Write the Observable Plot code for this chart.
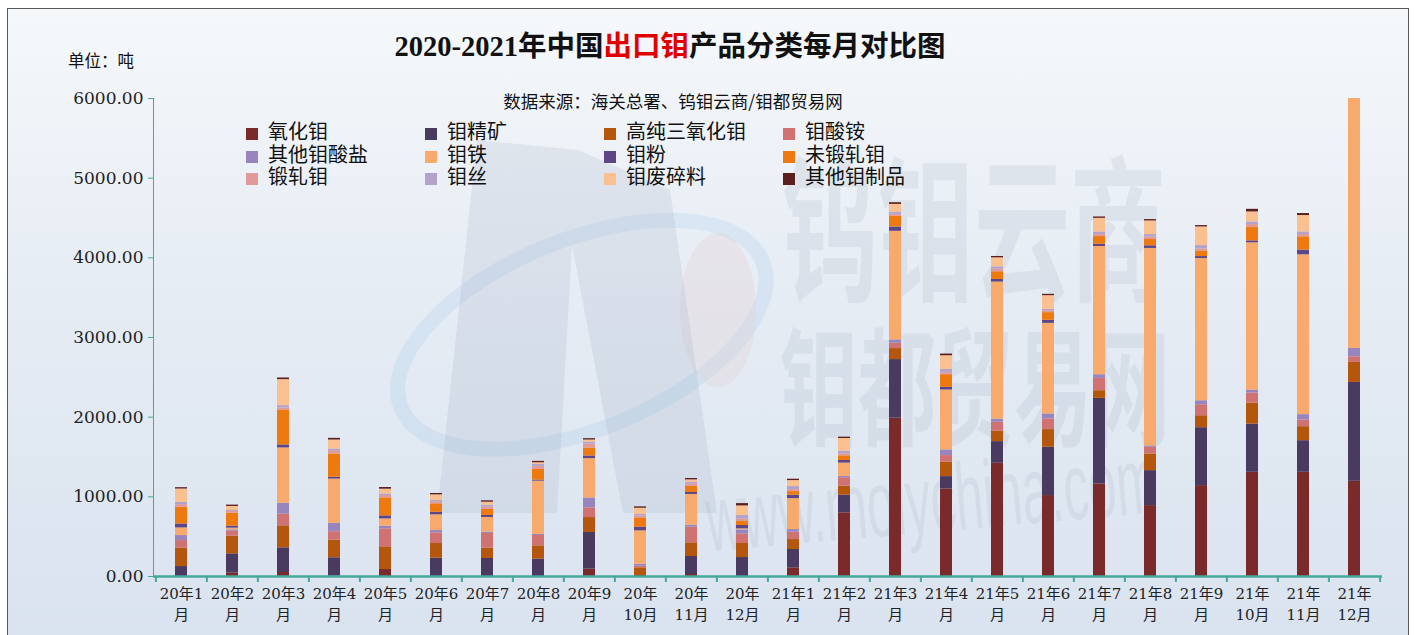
<!DOCTYPE html>
<html>
<head>
<meta charset="utf-8">
<script src="https://cdn.jsdelivr.net/npm/d3@7"></script>
<script src="https://cdn.jsdelivr.net/npm/@observablehq/plot@0.6"></script>
<style>
  html, body { margin: 0; padding: 0; background: #fff; }
  #wrap { position: relative; width: 1416px; height: 635px; overflow: hidden; }
  #frame { position: absolute; left: 7px; top: 8px; width: 1400px; height: 640px;
           border: 1px solid #5a5a5a; background: linear-gradient(to bottom, #f5f8fb 0%, #e6ecf4 45%, #d9e3ef 100%); }
  #logo { position: absolute; left: 0; top: 0; }
  .wm { position: absolute; color: rgba(150,162,182,0.16); font-family: "Noto Sans CJK SC", sans-serif; font-weight: 700; white-space: nowrap; transform-origin: 0 0; }
  #chart { position: absolute; left: 0; top: 0; }
  .t { position: absolute; white-space: nowrap; color: #111; }
  #title { left: 0; width: 1340px; top: 23px; text-align: center; font-family: "Liberation Serif", "Noto Sans CJK SC", serif; font-size: 28.5px; font-weight: 700; }
  #title .red { color: #e00000; }
  #unit { left: 68px; top: 48px; font-family: "Noto Sans CJK SC", sans-serif; font-size: 16.5px; }
  #src { left: 0; width: 1346px; top: 88px; text-align: center; font-family: "Noto Sans CJK SC", sans-serif; font-size: 17.5px; }
  .lg { position: absolute; font-family: "Noto Sans CJK SC", sans-serif; font-size: 20px; color: #111; white-space: nowrap; line-height: 22px; }
  .lg span.sw { display: inline-block; width: 12px; height: 12px; margin-right: 10px; vertical-align: -1px; }
</style>
</head>
<body>
<div id="wrap">
  <div id="frame"></div>
  <svg id="logo" width="1416" height="635">
    <g transform="rotate(-22 580 330)">
      <ellipse cx="580" cy="335" rx="195" ry="95" fill="none" stroke="rgba(150,195,235,0.2)" stroke-width="15"/>
    </g>
    <ellipse cx="718" cy="310" rx="38" ry="77" fill="rgba(228,205,205,0.28)"/>
    <polygon points="437,513 477,140 578,150 670,190 717,513 623,513 572,245 557,513" fill="rgba(150,162,182,0.17)"/>
  </svg>
  <div class="wm" style="left:782px; top:142px; font-size:98px; line-height:1; transform: scale(0.98,1.6);">钨钼云商</div>
  <div class="wm" style="left:780px; top:316px; font-size:78px; line-height:1; transform: scale(1.0,1.65);">钼都贸易网</div>
  <div class="wm" style="left:702px; top:472px; font-size:50px; line-height:1; font-family:'Liberation Sans',sans-serif; font-weight:400; transform: rotate(-5deg) scale(1.0,1.9);">www.molychina.com</div>
  <div id="chart"></div>
  <div class="t" id="title">2020-2021年中国<span class="red">出口钼</span>产品分类每月对比图</div>
  <div class="t" id="unit">单位：吨</div>
  <div class="t" id="src">数据来源：海关总署、钨钼云商/钼都贸易网</div>
  <div id="legend"></div>
</div>
<script>
// ---- data ----
const months = ["20年1月","20年2月","20年3月","20年4月","20年5月","20年6月","20年7月","20年8月","20年9月","20年10月","20年11月","20年12月",
                "21年1月","21年2月","21年3月","21年4月","21年5月","21年6月","21年7月","21年8月","21年9月","21年10月","21年11月","21年12月"];
const seriesNames = ["氧化钼","钼精矿","高纯三氧化钼","钼酸铵","其他钼酸盐","钼铁","钼粉","未锻轧钼","锻轧钼","钼丝","钼废碎料","其他钼制品"];
const seriesColors = ["#7a2a2b","#4b3a60","#b5560d","#d07272","#9985bd","#f7aa6b","#5d4586","#ee790e","#e19a9a","#b3a3cb","#fac08f","#5c1f20"];
const yTicks = [0,1000,2000,3000,4000,5000,6000];

const moOxide      = [0,46,50,5,88,0,0,0,92,13,25,0, 109,799,1987,1099,1421,1016,1162,890,1141,1308,1308,1195];
const moConcentrate= [125,238,310,230,0,230,226,218,460,0,226,238, 230,222,736,155,272,606,1074,439,727,606,397,1241];
const hpTrioxide   = [230,222,276,222,276,184,130,167,188,96,172,176, 125,113,138,180,130,222,96,209,150,263,176,251];
const ammMolybdate = [96,63,146,105,234,134,184,130,121,21,197,121, 92,105,67,84,113,134,155,84,138,125,84,71];
const otherMolyb   = [63,17,138,105,33,29,17,13,125,25,25,50, 33,17,42,71,38,63,46,17,50,38,67,105];
const ferroMo      = [96,21,694,556,92,197,184,669,494,418,385,13, 389,167,1363,752,1722,1137,1609,2479,1785,1848,2006,3137];
const moPowder     = [50,25,38,21,38,33,25,13,33,46,25,42, 42,33,54,33,33,38,29,33,25,25,59,0];
const unwroughtMo  = [209,163,439,293,226,105,75,134,100,117,75,50, 46,59,134,159,96,96,96,79,71,167,167,0];
const wroughtMo    = [33,21,25,42,29,25,29,38,50,25,33,33, 25,25,25,25,33,25,25,33,25,38,29,0];
const moWire       = [29,13,29,21,21,17,25,25,25,17,21,42, 38,33,29,42,29,17,33,29,42,33,33,0];
const moScrap      = [167,50,326,113,59,71,38,21,25,79,29,121, 75,159,96,171,113,171,171,171,234,125,205,0];
const otherMoProd  = [17,17,21,21,21,17,17,17,17,17,17,29, 17,17,21,21,17,17,17,17,17,33,25,0];

const seriesValues = [moOxide, moConcentrate, hpTrioxide, ammMolybdate, otherMolyb, ferroMo, moPowder, unwroughtMo, wroughtMo, moWire, moScrap, otherMoProd];

const rows = [];
seriesNames.forEach((name, i) => {
  seriesValues[i].forEach((v, j) => rows.push({month: months[j], series: name, value: v}));
});

// ---- layout ----
const W = 1416, H = 635, ML = 153, MR = 34, MT = 98, MB = 59;
const step = (W - ML - MR) / months.length;
const teal = "#45a99c";

function fmtMonth(m) {
  const [yy, mm] = m.replace("月", "").split("年");
  return mm.length === 1 ? `${yy}年${mm}\n月` : `${yy}年\n${mm}月`;
}

const chart = Plot.plot({
  width: W, height: H,
  marginLeft: ML, marginRight: MR, marginTop: MT, marginBottom: MB,
  x: {domain: months, paddingInner: 0.766, paddingOuter: 0.383, axis: null, label: null},
  y: {domain: [0, 6000], axis: null, label: null},
  color: {domain: seriesNames, range: seriesColors},
  style: {background: "transparent", fontFamily: "'DejaVu Serif','Noto Sans CJK SC',serif", fontSize: "15px", color: "#222", overflow: "visible"},
  marks: [
    Plot.frame({anchor: "left", stroke: teal}),
    Plot.barY(rows, {x: "month", y: "value", fill: "series"}),
    Plot.ruleY([0], {stroke: teal, strokeWidth: 2.5}),
    Plot.axisY(yTicks, {tickSize: 5, tickPadding: 5, stroke: teal, fill: "#222", fontSize: 17, label: null,
                        fontFamily: "'DejaVu Serif',serif", tickFormat: d => d.toFixed(2)}),
    Plot.axisX({tickSize: 0, tickPadding: 8, tickFormat: fmtMonth, lineHeight: 1.4, fill: "#222", fontSize: 15, label: null}),
    Plot.axisX({tickSize: 6, dx: -step / 2, stroke: teal, strokeWidth: 2, tickFormat: () => "", label: null}),
    Plot.axisX([months[months.length - 1]], {tickSize: 6, dx: step / 2, stroke: teal, strokeWidth: 2, tickFormat: () => "", label: null})
  ]
});
document.getElementById("chart").appendChild(chart);

// ---- legend ----
const legend = document.getElementById("legend");
const colX = [246, 425, 604, 783];
const rowY = [120, 143, 165];
seriesNames.forEach((name, i) => {
  const d = document.createElement("div");
  d.className = "lg";
  d.style.left = colX[i % 4] + "px";
  d.style.top = rowY[Math.floor(i / 4)] + "px";
  d.innerHTML = `<span class="sw" style="background:${seriesColors[i]}"></span>${name}`;
  legend.appendChild(d);
});
</script>
</body>
</html>
